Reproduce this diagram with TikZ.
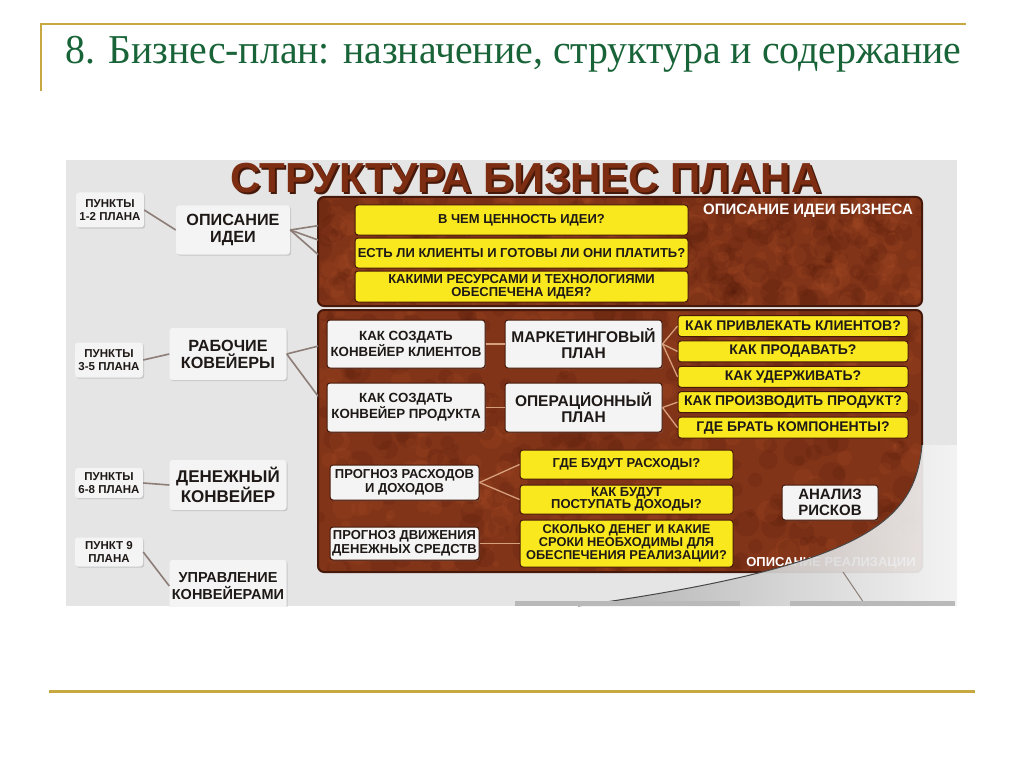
\documentclass[tikz,border=0pt]{standalone}
\usepackage{fontspec}
\setmainfont{Liberation Serif}
\newfontfamily\plfont{Liberation Sans}
\newfontfamily\ttlfont[FakeStretch=0.97]{Liberation Serif}
\usetikzlibrary{shadows}

\definecolor{slidegold}{RGB}{200,168,64}
\definecolor{slidegreen}{RGB}{24,100,56}
\definecolor{picgrey}{RGB}{229,229,229}
\definecolor{boxwhite}{RGB}{244,244,244}
\definecolor{qyellow}{RGB}{250,232,30}
\definecolor{panelbrown}{RGB}{130,52,24}
\definecolor{paneldark}{RGB}{70,25,10}
\definecolor{spotdark}{RGB}{80,26,10}
\definecolor{spotlight}{RGB}{180,85,45}
\definecolor{headbrown}{RGB}{125,45,18}
\definecolor{textdark}{RGB}{30,25,22}
\definecolor{linkgrey}{RGB}{140,125,118}
\definecolor{linktan}{RGB}{215,160,125}

\newcommand\fsz[2]{\fontsize{#1}{#2}\selectfont}
\newcommand\texpanel[4]{%
  \fill[panelbrown, rounded corners=6pt] (#1,#2) rectangle (#3,#4);
  \begin{scope}
    \clip[rounded corners=6pt] (#1,#2) rectangle (#3,#4);
    \foreach \k in {1,...,260}{
      \pgfmathsetmacro\sx{#1+(#3-#1)*rnd}
      \pgfmathsetmacro\sy{#2+(#4-#2)*rnd}
      \pgfmathsetmacro\sr{4+10*rnd}
      \fill[spotdark, opacity=.16] (\sx,\sy) circle (\sr pt);
      \pgfmathsetmacro\tx{#1+(#3-#1)*rnd}
      \pgfmathsetmacro\ty{#2+(#4-#2)*rnd}
      \pgfmathsetmacro\tr{3+9*rnd}
      \fill[spotlight, opacity=.14] (\tx,\ty) circle (\tr pt);
    }
  \end{scope}
  \draw[paneldark, line width=2pt, rounded corners=6pt] (#1,#2) rectangle (#3,#4);
}

\tikzset{
  shade box/.style={drop shadow={opacity=.3, shadow xshift=1.2pt, shadow yshift=-1.2pt}},
  pnote/.style={shade box, fill=boxwhite, rounded corners=3pt, align=center, inner sep=0pt,
    text=textdark, font=\plfont\bfseries\fsz{11.5}{12.5}, minimum width=68pt, minimum height=33pt},
  stage/.style={pnote, font=\plfont\bfseries\fsz{16.2}{17}, minimum width=117pt, minimum height=50pt},
  panelbox/.style={pnote, draw=paneldark, line width=1pt, font=\plfont\bfseries\fsz{13.3}{14},
    minimum width=158pt, minimum height=48pt},
  qbox/.style={fill=qyellow, draw=paneldark, line width=1pt, rounded corners=3pt, align=center,
    inner sep=0pt, text=textdark, font=\plfont\bfseries\fsz{13}{13}},
  plabel/.style={text=white, font=\plfont\bfseries\fsz{15}{15}, inner sep=0pt},
  link/.style={linkgrey, line width=1.6pt},
  inlink/.style={linktan, line width=1.3pt}
}

\begin{document}
\begin{tikzpicture}[x=1pt,y=-1pt]
\useasboundingbox (0,0) rectangle (1024,767);
\pgfmathsetseed{17}

\draw[slidegold, line width=2.5pt] (40,24) -- (966,24);
\draw[slidegold, line width=1.5pt] (41,24) -- (41,91);
\draw[slidegold, line width=3pt] (49,691) -- (975,691);
\node[anchor=base west, inner sep=0pt, text=slidegreen, font=\ttlfont\fsz{41}{41}] (slidetitle) at (65,64)
  {8. Бизнес-план: назначение, структура и содержание};

\begin{scope}
\clip (66,160) rectangle (957,606);
\fill[picgrey] (66,160) rectangle (957,606);
\node[anchor=base, inner sep=0pt, text=paneldark, font=\plfont\bfseries\fsz{42}{42}] (headshade) at (528,195) {СТРУКТУРА БИЗНЕС ПЛАНА};
\node[anchor=base, inner sep=0pt, text=headbrown, font=\plfont\bfseries\fsz{42}{42}] (head) at (526,193) {СТРУКТУРА БИЗНЕС ПЛАНА};

\texpanel{318}{197}{922}{306}
\texpanel{318}{310}{922}{572}

\node[pnote, minimum height=35pt] (note12) at (110,210) {ПУНКТЫ\\1-2 ПЛАНА};
\node[stage, minimum width=114pt, minimum height=49pt] (ideaBox) at (233,230) {ОПИСАНИЕ\\ИДЕИ};
\node[pnote, minimum height=35pt] (note35) at (109,360) {ПУНКТЫ\\3-5 ПЛАНА};
\node[stage, minimum height=52pt] (convBox) at (228,354) {РАБОЧИЕ\\КОВЕЙЕРЫ};
\node[pnote, minimum height=30pt] (note68) at (109,483) {ПУНКТЫ\\6-8 ПЛАНА};
\node[stage, font=\plfont\bfseries\fsz{17}{18}] (cashBox) at (228,485) {ДЕНЕЖНЫЙ\\КОНВЕЙЕР};
\node[pnote, minimum height=29pt] (note9) at (109,552) {ПУНКТ 9\\ПЛАНА};
\node[stage, font=\plfont\bfseries\fsz{14.5}{17}, minimum height=52pt] (mgmtBox) at (228,586) {УПРАВЛЕНИЕ\\КОНВЕЙЕРАМИ};

\node[qbox, minimum width=333pt, minimum height=30pt] (q1) at (521.5,220) {В ЧЕМ ЦЕННОСТЬ ИДЕИ?};
\node[qbox, minimum width=333pt, minimum height=30pt] (q2) at (521.5,253) {ЕСТЬ ЛИ КЛИЕНТЫ И ГОТОВЫ ЛИ ОНИ ПЛАТИТЬ?};
\node[qbox, minimum width=333pt, minimum height=31pt] (q3) at (521.5,286.5) {КАКИМИ РЕСУРСАМИ И ТЕХНОЛОГИЯМИ\\ОБЕСПЕЧЕНА ИДЕЯ?};
\node[plabel] (ideaLabel) at (808,211) {ОПИСАНИЕ ИДЕИ БИЗНЕСА};

\node[panelbox] (clientBox) at (406,344) {КАК СОЗДАТЬ\\КОНВЕЙЕР КЛИЕНТОВ};
\node[panelbox, font=\plfont\bfseries\fsz{15.5}{16}, minimum width=157pt] (mktBox) at (583.5,344) {МАРКЕТИНГОВЫЙ\\ПЛАН};
\node[panelbox, minimum height=49pt] (prodBox) at (406,407.5) {КАК СОЗДАТЬ\\КОНВЕЙЕР ПРОДУКТА};
\node[panelbox, font=\plfont\bfseries\fsz{15.5}{16}, minimum width=157pt, minimum height=49pt] (opsBox) at (583.5,407.5) {ОПЕРАЦИОННЫЙ\\ПЛАН};

\node[qbox, font=\plfont\bfseries\fsz{14}{14}, minimum width=230pt, minimum height=21pt] (ask1) at (793,326) {КАК ПРИВЛЕКАТЬ КЛИЕНТОВ?};
\node[qbox, font=\plfont\bfseries\fsz{14}{14}, minimum width=230pt, minimum height=21pt] (ask2) at (793,351.4) {КАК ПРОДАВАТЬ?};
\node[qbox, font=\plfont\bfseries\fsz{14}{14}, minimum width=230pt, minimum height=21pt] (ask3) at (793,376.8) {КАК УДЕРЖИВАТЬ?};
\node[qbox, font=\plfont\bfseries\fsz{14}{14}, minimum width=230pt, minimum height=21pt] (ask4) at (793,402.2) {КАК ПРОИЗВОДИТЬ ПРОДУКТ?};
\node[qbox, font=\plfont\bfseries\fsz{14}{14}, minimum width=230pt, minimum height=21pt] (ask5) at (793,427.6) {ГДЕ БРАТЬ КОМПОНЕНТЫ?};

\node[panelbox, font=\plfont\bfseries\fsz{13}{14.5}, minimum width=149pt, minimum height=35pt] (costBox) at (404.5,482.5) {ПРОГНОЗ РАСХОДОВ\\И ДОХОДОВ};
\node[panelbox, font=\plfont\bfseries\fsz{13}{14.5}, minimum width=149pt, minimum height=33pt] (flowBox) at (404.5,543.5) {ПРОГНОЗ ДВИЖЕНИЯ\\ДЕНЕЖНЫХ СРЕДСТВ};
\node[qbox, font=\plfont\bfseries\fsz{13}{13}, minimum width=213pt, minimum height=29pt] (where) at (626.5,464.5) {ГДЕ БУДУТ РАСХОДЫ?};
\node[qbox, font=\plfont\bfseries\fsz{13}{12.5}, minimum width=213pt, minimum height=29pt] (income) at (626.5,499.5) {КАК БУДУТ\\ПОСТУПАТЬ ДОХОДЫ?};
\node[qbox, font=\plfont\bfseries\fsz{12.8}{13.2}, minimum width=213pt, minimum height=47pt] (howMuch) at (626.5,543.5) {СКОЛЬКО ДЕНЕГ И КАКИЕ\\СРОКИ НЕОБХОДИМЫ ДЛЯ\\ОБЕСПЕЧЕНИЯ РЕАЛИЗАЦИИ?};
\node[panelbox, font=\plfont\bfseries\fsz{15}{15.5}, minimum width=96pt, minimum height=35pt] (risk) at (830,502.5) {АНАЛИЗ\\РИСКОВ};
\node[plabel, font=\plfont\bfseries\fsz{13}{13}] (implLabel) at (831,563) {ОПИСАНИЕ РЕАЛИЗАЦИИ};

\draw[link] (note12.east) -- (ideaBox.west);
\draw[link] (note35.east) -- (convBox.west);
\draw[link] (note68.east) -- (cashBox.west);
\draw[link] (note9.east) -- (mgmtBox.west);
\begin{scope}
\clip (66,160) rectangle (318,606);
\draw[link] (ideaBox.east) -- (q1.west);
\draw[link] (ideaBox.east) -- (q2.west);
\draw[link] (ideaBox.east) -- (q3.west);
\draw[link] (convBox.east) -- (clientBox.west);
\draw[link] (convBox.east) -- (prodBox.west);
\end{scope}

\draw[inlink] (clientBox.east) -- (mktBox.west);
\draw[inlink] (prodBox.east) -- (opsBox.west);
\draw[inlink] (mktBox.east) -- (ask1.west);
\draw[inlink] (mktBox.east) -- (ask2.west);
\draw[inlink] (mktBox.east) -- (ask3.west);
\draw[inlink] (opsBox.east) -- (ask4.west);
\draw[inlink] (opsBox.east) -- (ask5.west);
\draw[inlink] (costBox.east) -- (where.west);
\draw[inlink] (costBox.east) -- (income.west);
\draw[inlink] (flowBox.east) -- (howMuch.west);

\shade[left color=gray!65, right color=white!92!gray, opacity=.92] (922,445) .. controls (915,520) and (870,565) .. (578,606) -- (957,606) -- (957,445) -- cycle;
\draw[gray!55!black, line width=1pt] (922,445) .. controls (915,520) and (870,565) .. (578,606);
\draw[linkgrey, line width=1pt] (843,572) -- (866,606);
\fill[gray!55] (515,601) rectangle (740,606);
\fill[gray!55] (790,601) rectangle (955,606);
\end{scope}
\end{tikzpicture}
\end{document}
